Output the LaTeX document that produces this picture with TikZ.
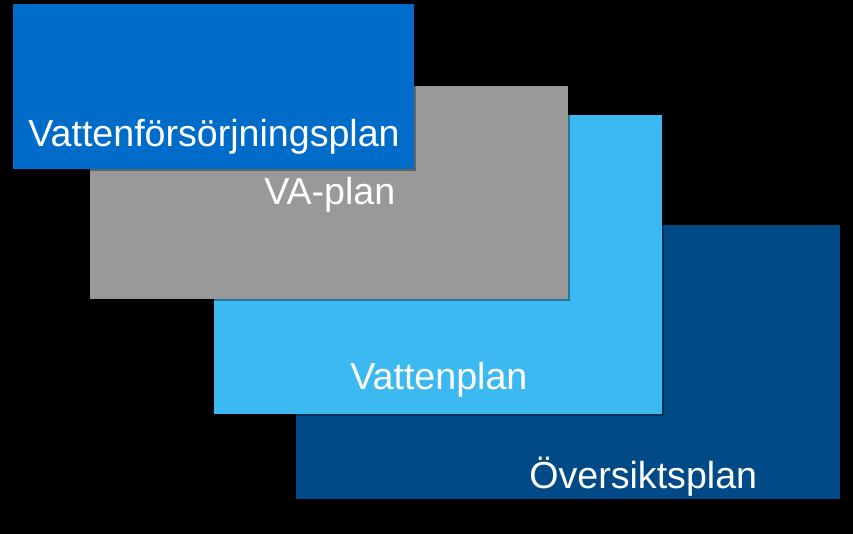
\documentclass[tikz,border=0pt]{standalone}
\usepackage{fontspec}
\setmainfont{Liberation Sans}
\definecolor{forsblue}{RGB}{0,108,201}
\definecolor{vagray}{RGB}{153,153,153}
\definecolor{vattenblue}{RGB}{61,185,242}
\definecolor{oversiktblue}{RGB}{0,75,135}
\usetikzlibrary{shadows,positioning}
\tikzset{
	planbox/.style={
		rectangle,
		anchor=north west,
		inner sep=0pt,
		outer sep=0pt,
		drop shadow={shadow xshift=0.05cm,shadow yshift=-0.05cm,opacity=0.35,fill=black},
	},
	plantext/.style={
		anchor=base west,
		inner sep=0pt,
		text=white,
		font=\fontsize{21.4}{25}\selectfont,
	},
}
\begin{document}
\begin{tikzpicture}[x=0.02cm,y=-0.02cm]
	\fill[black] (0,0) rectangle (853,534);
	\useasboundingbox (0,0) rectangle (853,534);

	\node[planbox,fill=oversiktblue,minimum width=10.88cm,minimum height=5.48cm] (oversikt) at (296,225) {};
	\node[planbox,fill=vattenblue,minimum width=8.96cm,minimum height=5.98cm]    (vattenplan) at (214,115) {};
	\node[planbox,fill=vagray,minimum width=9.56cm,minimum height=4.26cm]       (vaplan) at (90,86) {};
	\node[planbox,fill=forsblue,minimum width=8.02cm,minimum height=3.3cm]      (forsorjning) at (13,4) {};

	\node[plantext] (oversikttext) at (529,488) {Översiktsplan};
	\node[plantext] (vattentext)   at (350,389) {Vattenplan};
	\node[plantext] (vatext)       at (264,204) {VA-plan};
	\node[plantext] (forstext)     at (28,146)  {Vattenförsörjningsplan};
\end{tikzpicture}
\end{document}
